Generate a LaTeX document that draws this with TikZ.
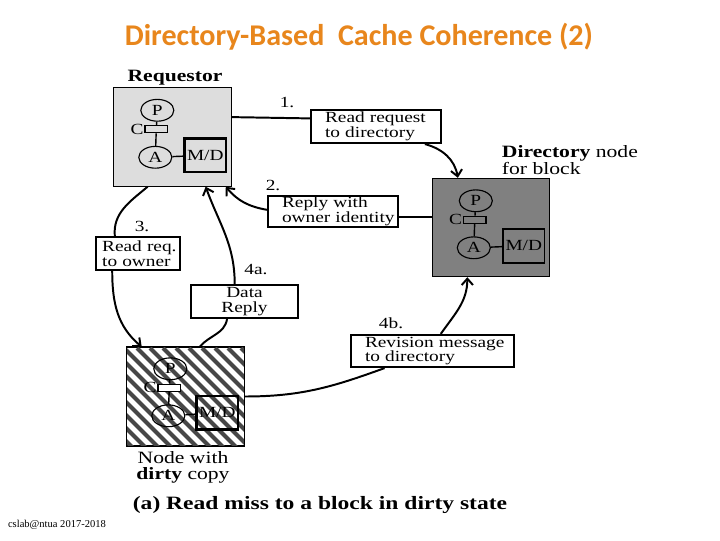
\documentclass[tikz,border=0pt]{standalone}
\usepackage{fontspec}
\setmainfont{Liberation Serif}
\newfontfamily\figfont[FakeStretch=1.25]{Liberation Serif}
\newfontfamily\titlefont{Carlito}
\usetikzlibrary{calc,positioning,shapes.geometric,arrows.meta}
\definecolor{titleorange}{RGB}{232,134,28}
\definecolor{reqgray}{RGB}{221,221,221}
\definecolor{dirgray}{RGB}{128,128,128}
\tikzset{
    % boxes for the three nodes
    procbox/.style={
        draw,
        line width=0.7pt,
        inner sep=0pt,
        minimum width=83.5pt,
        minimum height=70pt
    },
    % message boxes on the arrows
    msgbox/.style={
        draw,
        line width=1.5pt,
        fill=white,
        inner ysep=1pt,
        align=left,
        font=\figfont\fontsize{11}{10.5}\selectfont
    },
    unitcirc/.style={draw,ellipse,line width=0.8pt,inner sep=0pt,
        minimum width=23.5pt,minimum height=15.5pt,font=\figfont\fontsize{11}{11}\selectfont},
    cacherect/.style={draw,line width=0.8pt,inner sep=0pt,minimum width=16pt,minimum height=5pt},
    mdbox/.style={draw,line width=1.8pt,inner sep=0pt,minimum width=29.5pt,minimum height=24pt,
        font=\figfont\fontsize{11}{11}\selectfont},
    clabel/.style={inner sep=0.5pt,font=\figfont\fontsize{11}{11}\selectfont},
    steplabel/.style={font=\figfont\fontsize{11}{11}\selectfont},
    wire/.style={line width=1pt},
    link/.style={line width=1.4pt},
    arr/.style={link,-{Straight Barb[length=4.5pt,width=8pt]}},
    stripe/.style={line width=3pt,black!72}
}
\begin{document}
\begin{tikzpicture}[x=0.025cm,y=0.025cm]
    \useasboundingbox (0,0) rectangle (720,540);

    \node[font=\titlefont\bfseries\fontsize{21.4}{21.4}\selectfont,text=titleorange] (title) at (359,503)
        {Directory-Based\ \ Cache Coherence (2)};

    % ===================== node boxes =====================
    \node[procbox,fill=reqgray] (req) at (172.5,403) {};
    \node[procbox,fill=dirgray] (dir) at (491,312.5) {};
    \node[procbox,fill=white] (dty) at (185.5,143.5) {};
    \begin{scope}
     \clip (dty.south west) rectangle (dty.north east);
     \foreach \x in {20,33,...,255}
       \draw[stripe] (\x,192) -- ++(150,-150);
    \end{scope}
    \draw[line width=0.7pt] (dty.south west) rectangle (dty.north east);

    \node[font=\figfont\bfseries\fontsize{12.3}{12.3}\selectfont] (reqlbl) at (175,462) {Requestor};
    \node[font=\figfont\fontsize{12.3}{11.5}\selectfont,align=left,anchor=west] (dirlbl) at (497,380)
        {\textbf{Directory} node\\for block};
    \node[font=\figfont\fontsize{12.3}{11.5}\selectfont,align=center] (dtylbl) at (183,73)
        {Node with\\\textbf{dirty} copy};

    % requestor
    \begin{scope}[shift={(req.north west)}]
     \node[unitcirc] (rP) at (44,-23) {P};
     \node[cacherect] (rC) at (43,-42) {};
     \node[unitcirc] (rA) at (42,-70) {A};
     \node[mdbox] (rM) at (92,-68) {M/D};
     \node[clabel,left=0pt of rC] (rCl) {C};
     \draw[wire] (rP) -- (rC) -- (rA) -- (rM);
    \end{scope}
    % directory
    \begin{scope}[shift={(dir.north west)}]
     \node[unitcirc] (dP) at (44,-23) {P};
     \node[cacherect] (dC) at (43,-42) {};
     \node[unitcirc] (dA) at (42,-70) {A};
     \node[mdbox,line width=1.3pt] (dM) at (92,-68) {M/D};
     \node[clabel,left=0pt of dC] (dCl) {C};
     \draw[wire] (dP) -- (dC) -- (dA) -- (dM);
    \end{scope}
    % dirty node
    \begin{scope}[shift={(dty.north west)}]
     \node[unitcirc] (yP) at (44,-22) {P};
     \node[cacherect,fill=white] (yC) at (43,-41) {};
     \node[unitcirc] (yA) at (42,-69) {A};
     \node[mdbox] (yM) at (91,-66) {M/D};
     \node[clabel,left=0pt of yC] (yCl) {C};
     \draw[wire] (yP) -- (yC) -- (yA) -- (yM);
    \end{scope}

    % ===================== messages =====================
    \node[msgbox,text width=72.5pt,inner xsep=10pt,minimum height=23.5pt] (m1) at (376,413.5)
        {\mbox{Read request}\\\mbox{to directory}};
    \node[msgbox,text width=72.5pt,inner xsep=10pt,minimum height=22pt] (m2) at (333,328.5)
        {\mbox{Reply with}\\\mbox{owner identity}};
    \node[msgbox,text width=51pt,inner xsep=4.3pt,minimum height=23.5pt] (m3) at (138,286.5)
        {\mbox{Read req.}\\\mbox{to owner}};
    \node[msgbox,text width=68pt,inner xsep=4pt,minimum height=23.5pt,align=center] (m4a) at (244.5,238.5)
        {Data\\Reply};
    \node[msgbox,text width=96pt,inner xsep=10pt,minimum height=22.8pt] (m4b) at (432.5,189)
        {\mbox{Revision message}\\\mbox{to directory}};

    \node[steplabel] (s1) at (287,437) {1.};
    \node[steplabel] (s2) at (273,355) {2.};
    \node[steplabel] (s3) at (142,314) {3.};
    \node[steplabel] (s4a) at (256,270) {4a.};
    \node[steplabel] (s4b) at (391,217) {4b.};

    % 1.
    \draw[link] ($(req.north east)!0.3!(req.south east)$) -- ($(m1.north west)!0.27!(m1.south west)$);
    \draw[arr] ($(m1.south west)!0.87!(m1.south east)$) to[out=-15,in=100] ($(dir.north west)!0.22!(dir.north east)$);
    % 2.
    \coordinate (m2r) at ($(m2.north east)!0.65!(m2.south east)$);
    \draw[link] (dir.west |- m2r) -- (m2r);
    \draw[arr] ($(m2.north west)!0.45!(m2.south west)$) to[out=170,in=-50] ($(req.south west)!0.95!(req.south east)$);
    % 3.
    \draw[link] ($(req.south west)!0.29!(req.south east)$) to[out=220,in=95] ($(m3.north west)!0.23!(m3.north east)$);
    \draw[arr] ($(m3.south west)!0.2!(m3.south east)$) to[out=-90,in=140] ($(dty.north west)!0.13!(dty.north east)$);
    % 4a.
    \draw[link] ($(dty.north west)!0.62!(dty.north east)$) to[out=50,in=-100] ($(m4a.south west)!0.34!(m4a.south east)$);
    \draw[arr] ($(m4a.north west)!0.41!(m4a.north east)$) to[out=90,in=-70] ($(req.south west)!0.78!(req.south east)$);
    % 4b.
    \draw[link] ($(dty.north east)!0.5!(dty.south east)$) to[out=0,in=-160] ($(m4b.south west)!0.21!(m4b.south east)$);
    \draw[arr] ($(m4b.north west)!0.55!(m4b.north east)$) to[out=55,in=-90] ($(dir.south west)!0.3!(dir.south east)$);

    \node[font=\figfont\bfseries\fontsize{13.4}{13.4}\selectfont] (caption) at (320,35)
        {(a) Read miss to a block in dirty state};
    \node[font=\fontsize{7.5}{7.5}\selectfont] (footer) at (57,15) {cslab@ntua 2017-2018};
\end{tikzpicture}
\end{document}
